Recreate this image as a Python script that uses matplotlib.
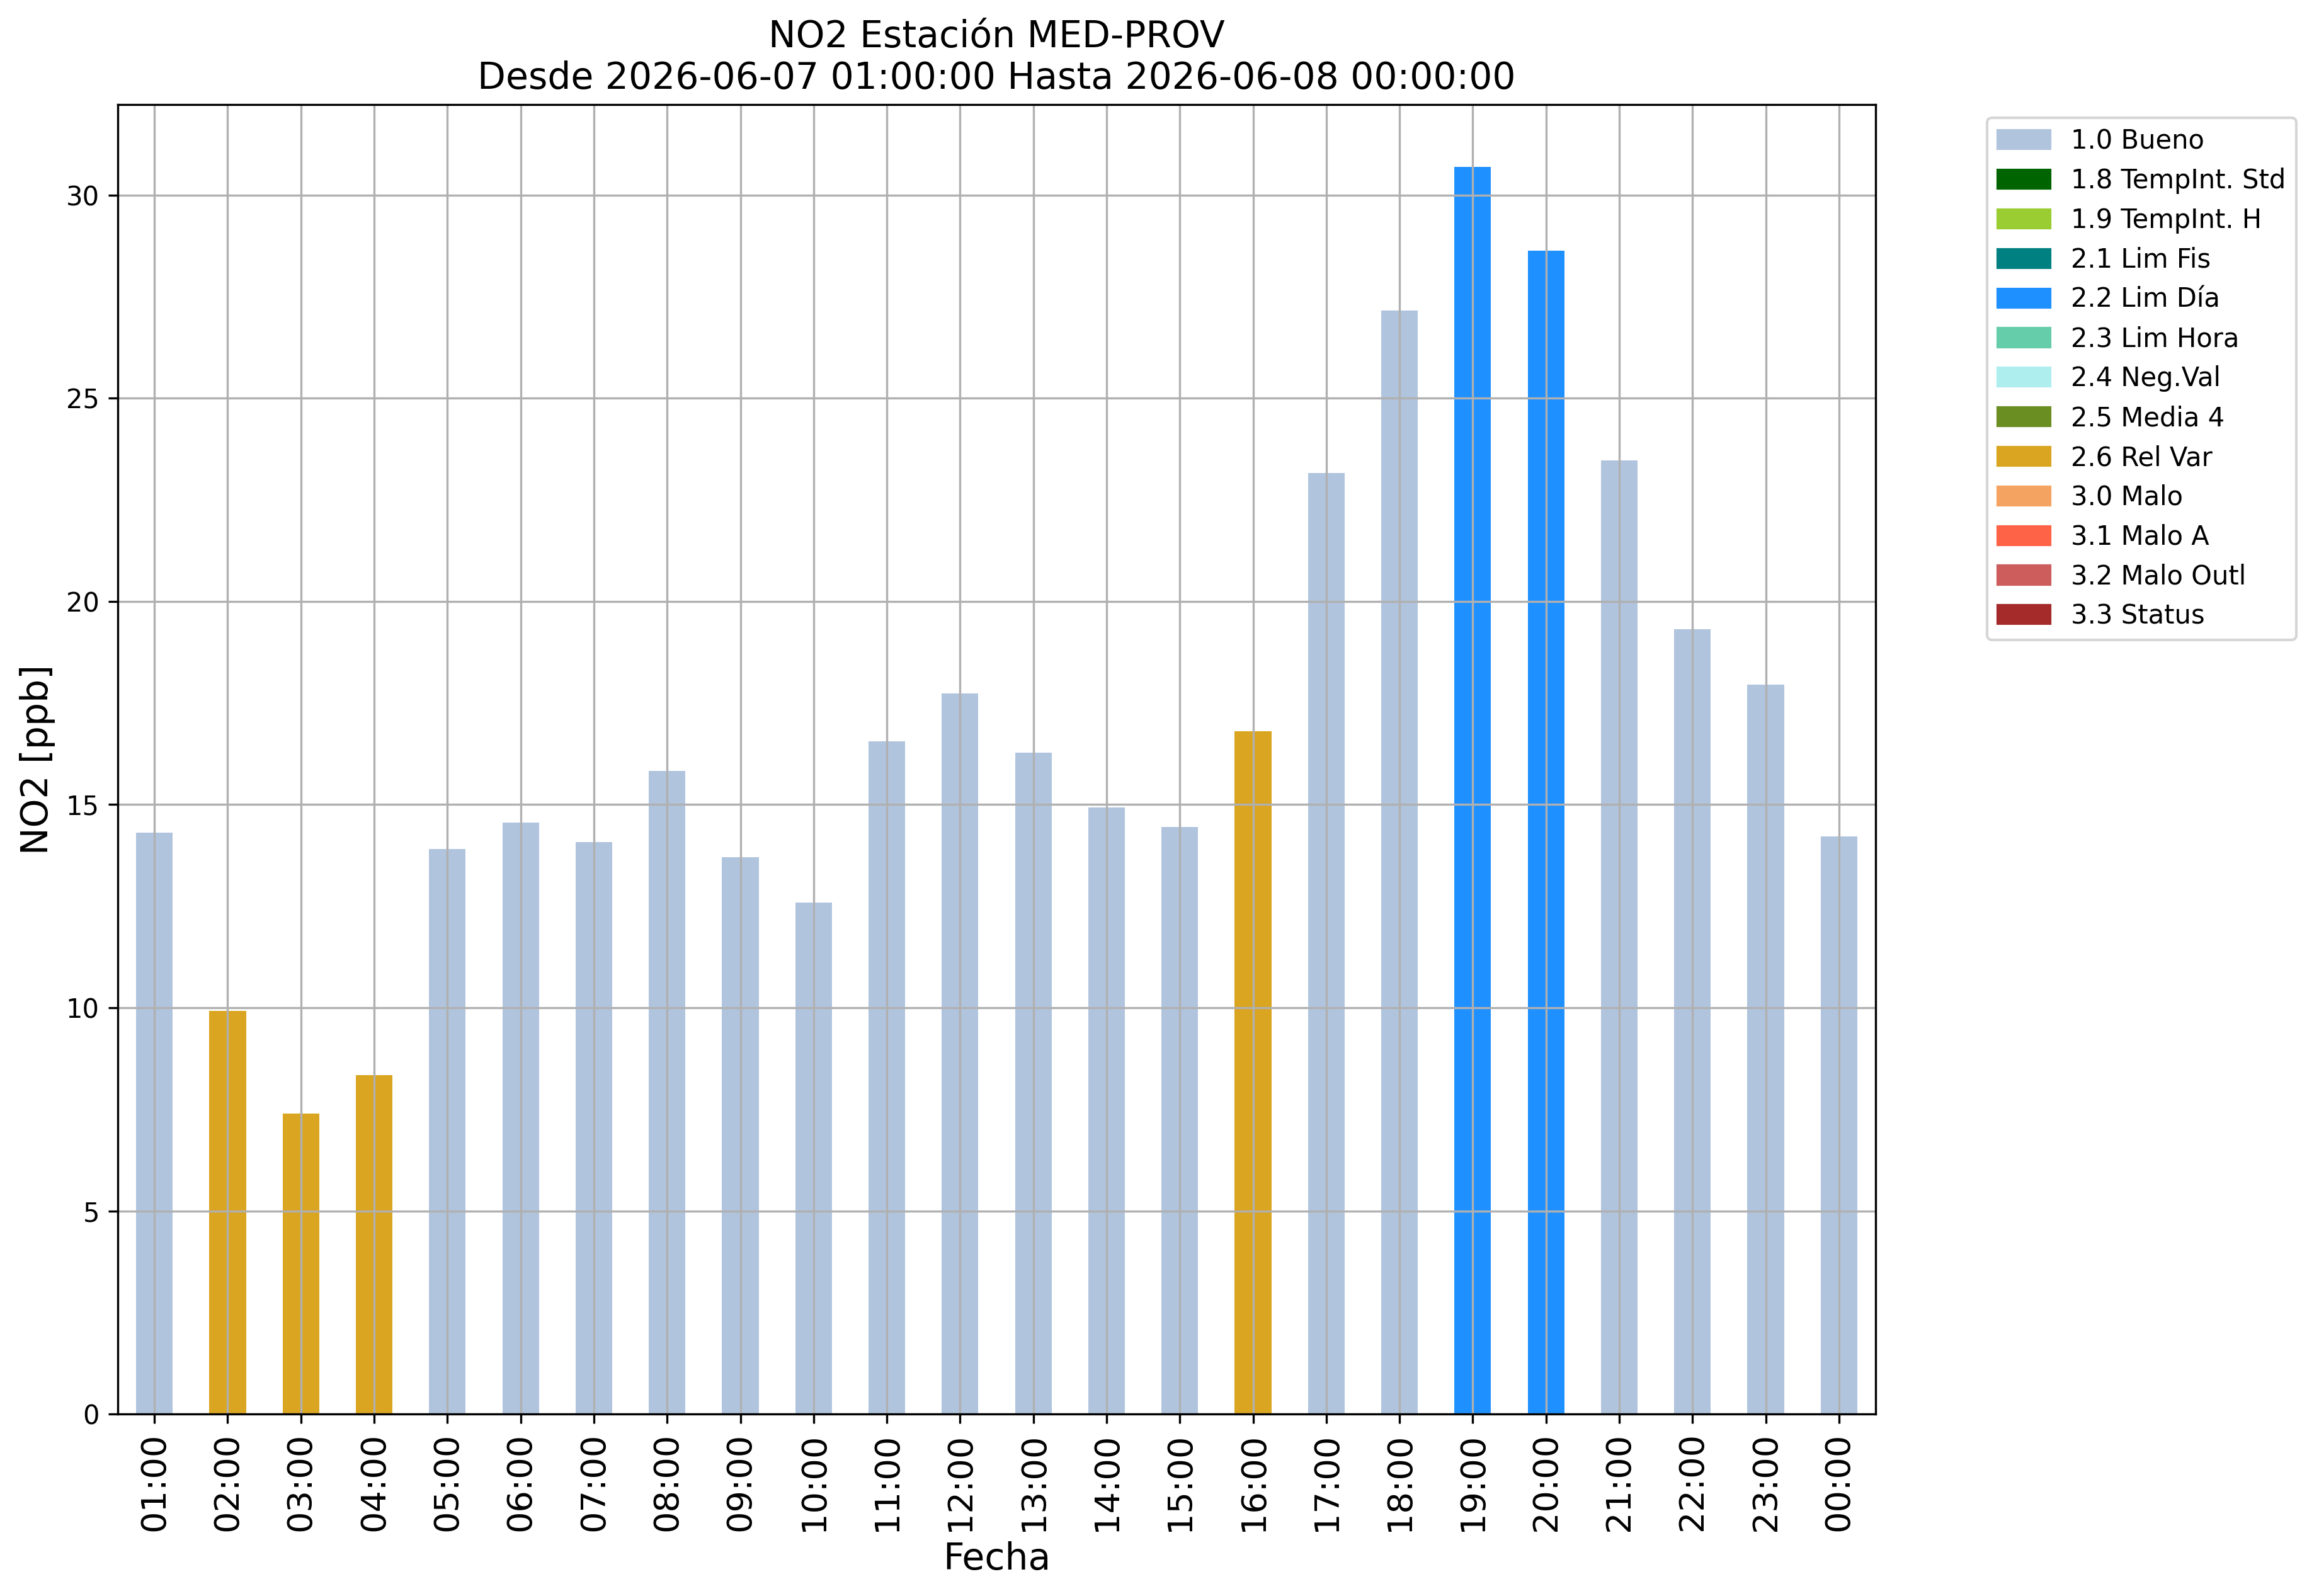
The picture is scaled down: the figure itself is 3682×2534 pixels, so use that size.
import matplotlib
matplotlib.use("Agg")
import matplotlib.pyplot as plt
from matplotlib.patches import Patch

hours = ["01:00", "02:00", "03:00", "04:00", "05:00", "06:00", "07:00", "08:00",
         "09:00", "10:00", "11:00", "12:00", "13:00", "14:00", "15:00", "16:00",
         "17:00", "18:00", "19:00", "20:00", "21:00", "22:00", "23:00", "00:00"]
values = [14.30, 9.92, 7.39, 8.34, 13.90, 14.56, 14.07, 15.83,
          13.70, 12.58, 16.55, 17.73, 16.28, 14.93, 14.45, 16.80,
          23.15, 27.15, 30.69, 28.63, 23.46, 19.31, 17.95, 14.21]
flags = ["1.0", "2.6", "2.6", "2.6", "1.0", "1.0", "1.0", "1.0",
         "1.0", "1.0", "1.0", "1.0", "1.0", "1.0", "1.0", "2.6",
         "1.0", "1.0", "2.2", "2.2", "1.0", "1.0", "1.0", "1.0"]

flag_codes = ["1.0", "1.8", "1.9", "2.1", "2.2", "2.3", "2.4", "2.5",
              "2.6", "3.0", "3.1", "3.2", "3.3"]
flag_names = ["Bueno", "TempInt. Std", "TempInt. H", "Lim Fis", "Lim Día",
              "Lim Hora", "Neg.Val", "Media 4", "Rel Var", "Malo", "Malo A",
              "Malo Outl", "Status"]
flag_colors = ["lightsteelblue", "darkgreen", "yellowgreen", "teal", "dodgerblue",
               "mediumaquamarine", "paleturquoise", "olivedrab", "goldenrod",
               "sandybrown", "tomato", "indianred", "brown"]

color_map = dict(zip(flag_codes, flag_colors))
bar_colors = [color_map[f] for f in flags]

fig = plt.figure(figsize=(3682 / 300, 2534 / 300), dpi=300)
ax = fig.add_axes([0.0508, 0.1140, 0.7580, 0.8205])

x = list(range(len(hours)))
ax.bar(x, values, width=0.5, color=bar_colors)
ax.set_xlim(-0.5, len(hours) - 0.5)
ax.set_xticks(x)
ax.set_xticklabels(hours, rotation=90, fontsize=13)
ax.tick_params(axis="y", labelsize=10)
ax.grid(True)

ax.set_xlabel("Fecha", fontsize=14)
ax.set_ylabel("NO2 [ppb]", fontsize=14)
ax.set_title("NO2 Estación MED-PROV\nDesde 2026-06-07 01:00:00 Hasta 2026-06-08 00:00:00",
             fontsize=14)

handles = [Patch(color=c, label=f"{code} {name}")
           for code, name, c in zip(flag_codes, flag_names, flag_colors)]
ax.legend(handles=handles, loc="upper left", bbox_to_anchor=(1.056, 1), fontsize=10)

fig.savefig("out.png", dpi=300)
